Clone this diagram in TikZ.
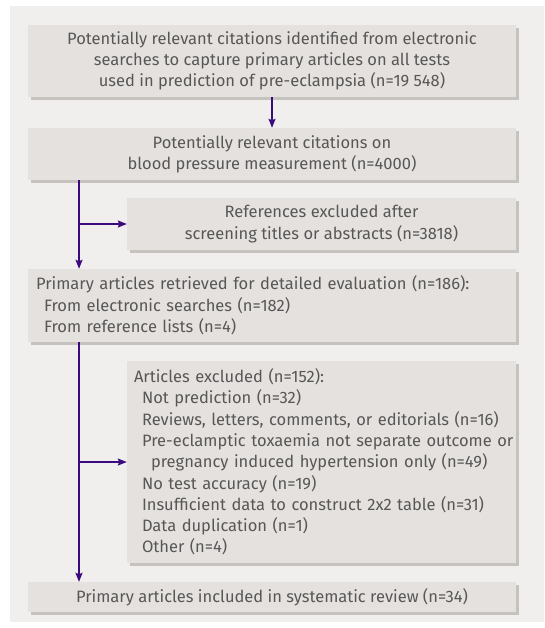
\documentclass[tikz,border=0pt]{standalone}
\usepackage{fontspec}
\setmainfont{Fira Sans}
\usetikzlibrary{shadows,arrows.meta}
\definecolor{panelgray}{HTML}{F0EFEE}
\definecolor{boxgray}{HTML}{E5E1DE}
\definecolor{shadowgray}{HTML}{C6C2BE}
\definecolor{textgray}{HTML}{575757}
\definecolor{flowpurple}{HTML}{3B0A7E}
\tikzset{
  stagebox/.style={fill=boxgray, text=textgray, inner sep=0pt,
    font=\fontsize{16.5}{21.3}\selectfont,
    drop shadow={shadow xshift=3pt, shadow yshift=-3pt, fill=shadowgray, opacity=1}},
  flowarrow/.style={draw=flowpurple, line width=1.5pt,
    -{Stealth[length=9pt, width=7pt, inset=1.5pt]}}
}
\begin{document}
\begin{tikzpicture}[x=1pt, y=-1pt]
\useasboundingbox (0,0) rectangle (544,628);
\fill[panelgray] (10,6) rectangle (544,622);
%Stages down the left
\node[stagebox, minimum width=488pt, minimum height=72pt, align=center] (search) at (272,61)
  {Potentially relevant citations identified from electronic\\
   searches to capture primary articles on all tests\\
   used in prediction of pre-eclampsia (n=19 548)};
\node[stagebox, minimum width=488pt, minimum height=52pt, align=center] (bp) at (272,154)
  {Potentially relevant citations on\\ blood pressure measurement (n=4000)};
\node[stagebox, inner xsep=8pt, text width=472pt, minimum height=73pt, align=left] (retrieved) at (272,305.5)
  {Primary articles retrieved for detailed evaluation (n=186):\\
   \hspace*{8pt}From electronic searches (n=182)\\
   \hspace*{8pt}From reference lists (n=4)};
\node[stagebox, minimum width=488pt, minimum height=30pt, align=center] (included) at (272,597)
  {Primary articles included in systematic review (n=34)};
%Exclusions on the right
\node[stagebox, minimum width=389pt, minimum height=52pt, align=center] (screened) at (321.5,224)
  {References excluded after\\ screening titles or abstracts (n=3818)};
\node[stagebox, inner xsep=7pt, text width=375pt, minimum height=202pt, align=left] (excluded) at (321.5,462)
  {Articles excluded (n=152):\\
   \hspace*{8pt}Not prediction (n=32)\\
   \hspace*{8pt}Reviews, letters, comments, or editorials (n=16)\\
   \hspace*{8pt}\mbox{Pre-eclamptic toxaemia not separate outcome or}\\
   \hspace*{17pt}pregnancy induced hypertension only (n=49)\\
   \hspace*{8pt}No test accuracy (n=19)\\
   \hspace*{8pt}Insufficient data to construct 2x2 table (n=31)\\
   \hspace*{8pt}Data duplication (n=1)\\
   \hspace*{8pt}Other (n=4)};
%Connectors
\coordinate (trunk) at (79,0);
\draw[flowarrow] (search.south) -- (bp.north);
\draw[flowarrow] (bp.south -| trunk) -- (retrieved.north -| trunk);
\draw[flowarrow] (trunk |- screened.west) -- (screened.west);
\draw[flowarrow] (retrieved.south -| trunk) -- (included.north -| trunk);
\draw[flowarrow] (trunk |- excluded.west) -- (excluded.west);
\end{tikzpicture}
\end{document}
